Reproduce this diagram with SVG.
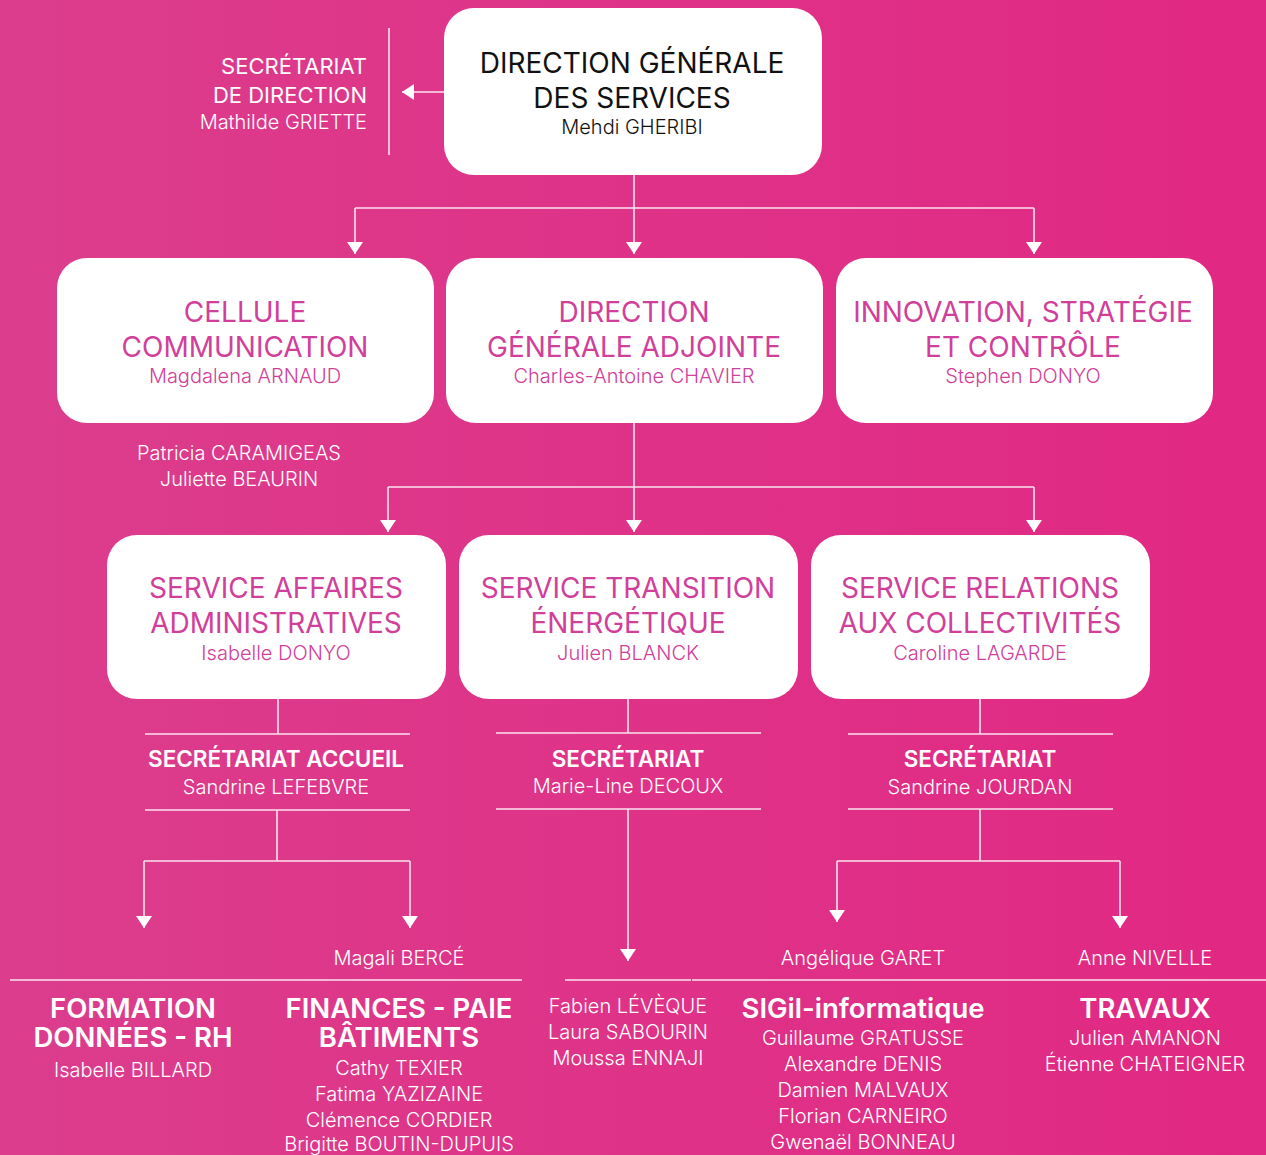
<svg xmlns="http://www.w3.org/2000/svg" width="1266" height="1155" viewBox="0 0 1266 1155">
<defs>
<linearGradient id="bg" x1="0" y1="0" x2="1" y2="0">
<stop offset="0" stop-color="#dc3d8d"/>
<stop offset="1" stop-color="#e12883"/>
</linearGradient>
<marker id="ah" markerWidth="12" markerHeight="16" refX="12" refY="8" orient="auto" markerUnits="userSpaceOnUse">
<path d="M0,0 L12,8 L0,16 Z" fill="#ffffff"/>
</marker>
<style>
.box{fill:#ffffff}
.ln{stroke:#fbe3ef;stroke-width:1.6;fill:none}
.ar{stroke:#fbe3ef;stroke-width:1.6;fill:none;marker-end:url(#ah)}
text{font-family:Inter,"Liberation Sans",sans-serif;text-anchor:middle}
.t1{font-size:28px;fill:#111111}
.n1{font-size:20px;font-weight:300;fill:#111111}
.t2{font-size:28px;fill:#d0409a}
.n2{font-size:20px;font-weight:300;fill:#d0409a}
.wt{font-size:22px;fill:#ffffff}
.wn{font-size:20px;font-weight:300;fill:#ffffff}
.wb{font-size:22.5px;font-weight:600;fill:#ffffff}
.wB{font-size:27.5px;font-weight:600;fill:#ffffff}
.r{text-anchor:end}
</style>
</defs>
<rect width="1266" height="1155" fill="url(#bg)"/>

<g id="connectors">
<line class="ln" x1="389" y1="28" x2="389" y2="155"/>
<line class="ar" x1="444" y1="92" x2="402" y2="92"/>
<line class="ar" x1="634" y1="175" x2="634" y2="254"/>
<line class="ln" x1="355" y1="208" x2="1034" y2="208"/>
<line class="ar" x1="355" y1="208" x2="355" y2="254"/>
<line class="ar" x1="1034" y1="208" x2="1034" y2="254"/>
<line class="ar" x1="634" y1="423" x2="634" y2="532"/>
<line class="ln" x1="388" y1="487" x2="1034" y2="487"/>
<line class="ar" x1="388" y1="487" x2="388" y2="532"/>
<line class="ar" x1="1034" y1="487" x2="1034" y2="532"/>
<line class="ln" x1="278" y1="699" x2="278" y2="734"/>
<line class="ln" x1="145" y1="734" x2="410" y2="734"/>
<line class="ln" x1="145" y1="810" x2="410" y2="810"/>
<line class="ln" x1="277" y1="810" x2="277" y2="861"/>
<line class="ln" x1="144" y1="861" x2="410" y2="861"/>
<line class="ar" x1="144" y1="861" x2="144" y2="928"/>
<line class="ar" x1="410" y1="861" x2="410" y2="928"/>
<line class="ln" x1="628" y1="699" x2="628" y2="733"/>
<line class="ln" x1="496" y1="733" x2="761" y2="733"/>
<line class="ln" x1="496" y1="809" x2="761" y2="809"/>
<line class="ar" x1="628" y1="809" x2="628" y2="961"/>
<line class="ln" x1="980" y1="699" x2="980" y2="734"/>
<line class="ln" x1="848" y1="734" x2="1113" y2="734"/>
<line class="ln" x1="848" y1="809" x2="1113" y2="809"/>
<line class="ln" x1="980" y1="809" x2="980" y2="861"/>
<line class="ln" x1="837" y1="861" x2="1120" y2="861"/>
<line class="ar" x1="837" y1="861" x2="837" y2="922"/>
<line class="ar" x1="1120" y1="861" x2="1120" y2="928"/>
<line class="ln" x1="10" y1="980" x2="522" y2="980"/>
<line class="ln" x1="565" y1="980" x2="691" y2="980"/>
<line class="ln" x1="692" y1="980" x2="1266" y2="980"/>
</g>

<g id="secretariat-direction">
<text class="wt r" x="367" y="74">SECRÉTARIAT</text>
<text class="wt r" x="367" y="103">DE DIRECTION</text>
<text class="wn r" x="367" y="129">Mathilde GRIETTE</text>
</g>

<g id="dgs">
<rect class="box" x="444" y="8" width="378" height="167" rx="30"/>
<text class="t1" x="632" y="73">DIRECTION GÉNÉRALE</text>
<text class="t1" x="632" y="108">DES SERVICES</text>
<text class="n1" x="632" y="134">Mehdi GHERIBI</text>
</g>

<g id="communication">
<rect class="box" x="57" y="258" width="377" height="165" rx="30"/>
<text class="t2" x="245" y="322">CELLULE</text>
<text class="t2" x="245" y="357">COMMUNICATION</text>
<text class="n2" x="245" y="383">Magdalena ARNAUD</text>
</g>

<g id="dga">
<rect class="box" x="446" y="258" width="377" height="165" rx="30"/>
<text class="t2" x="634" y="322">DIRECTION</text>
<text class="t2" x="634" y="357">GÉNÉRALE ADJOINTE</text>
<text class="n2" x="634" y="383">Charles-Antoine CHAVIER</text>
</g>

<g id="innovation">
<rect class="box" x="836" y="258" width="377" height="165" rx="30"/>
<text class="t2" x="1023" y="322">INNOVATION, STRATÉGIE</text>
<text class="t2" x="1023" y="357">ET CONTRÔLE</text>
<text class="n2" x="1023" y="383">Stephen DONYO</text>
</g>

<g id="communication-staff">
<text class="wn" x="239" y="460">Patricia CARAMIGEAS</text>
<text class="wn" x="239" y="486">Juliette BEAURIN</text>
</g>

<g id="affaires-admin">
<rect class="box" x="107" y="535" width="339" height="164" rx="30"/>
<text class="t2" x="276" y="598">SERVICE AFFAIRES</text>
<text class="t2" x="276" y="633">ADMINISTRATIVES</text>
<text class="n2" x="276" y="660">Isabelle DONYO</text>
</g>

<g id="transition">
<rect class="box" x="459" y="535" width="339" height="164" rx="30"/>
<text class="t2" x="628" y="598">SERVICE TRANSITION</text>
<text class="t2" x="628" y="633">ÉNERGÉTIQUE</text>
<text class="n2" x="628" y="660">Julien BLANCK</text>
</g>

<g id="relations">
<rect class="box" x="811" y="535" width="339" height="164" rx="30"/>
<text class="t2" x="980" y="598">SERVICE RELATIONS</text>
<text class="t2" x="980" y="633">AUX COLLECTIVITÉS</text>
<text class="n2" x="980" y="660">Caroline LAGARDE</text>
</g>

<g id="secretariat-accueil">
<text class="wb" x="276" y="767">SECRÉTARIAT ACCUEIL</text>
<text class="wn" x="276" y="794">Sandrine LEFEBVRE</text>
</g>
<g id="secretariat-transition">
<text class="wb" x="628" y="767">SECRÉTARIAT</text>
<text class="wn" x="628" y="793">Marie-Line DECOUX</text>
</g>
<g id="secretariat-relations">
<text class="wb" x="980" y="767">SECRÉTARIAT</text>
<text class="wn" x="980" y="794">Sandrine JOURDAN</text>
</g>

<g id="formation">
<text class="wB" x="133" y="1018">FORMATION</text>
<text class="wB" x="133" y="1047">DONNÉES - RH</text>
<text class="wn" x="133" y="1077">Isabelle BILLARD</text>
</g>

<g id="finances">
<text class="wn" x="399" y="965">Magali BERCÉ</text>
<text class="wB" x="399" y="1018">FINANCES - PAIE</text>
<text class="wB" x="399" y="1047">BÂTIMENTS</text>
<text class="wn" x="399" y="1075">Cathy TEXIER</text>
<text class="wn" x="399" y="1101">Fatima YAZIZAINE</text>
<text class="wn" x="399" y="1127">Clémence CORDIER</text>
<text class="wn" x="399" y="1151">Brigitte BOUTIN-DUPUIS</text>
</g>

<g id="transition-staff">
<text class="wn" x="628" y="1013">Fabien LÉVÈQUE</text>
<text class="wn" x="628" y="1039">Laura SABOURIN</text>
<text class="wn" x="628" y="1065">Moussa ENNAJI</text>
</g>

<g id="sigil">
<text class="wn" x="863" y="965">Angélique GARET</text>
<text class="wB" x="863" y="1018">SIGil-informatique</text>
<text class="wn" x="863" y="1045">Guillaume GRATUSSE</text>
<text class="wn" x="863" y="1071">Alexandre DENIS</text>
<text class="wn" x="863" y="1097">Damien MALVAUX</text>
<text class="wn" x="863" y="1123">Florian CARNEIRO</text>
<text class="wn" x="863" y="1149">Gwenaël BONNEAU</text>
</g>

<g id="travaux">
<text class="wn" x="1145" y="965">Anne NIVELLE</text>
<text class="wB" x="1145" y="1018">TRAVAUX</text>
<text class="wn" x="1145" y="1045">Julien AMANON</text>
<text class="wn" x="1145" y="1071">Étienne CHATEIGNER</text>
</g>
</svg>
